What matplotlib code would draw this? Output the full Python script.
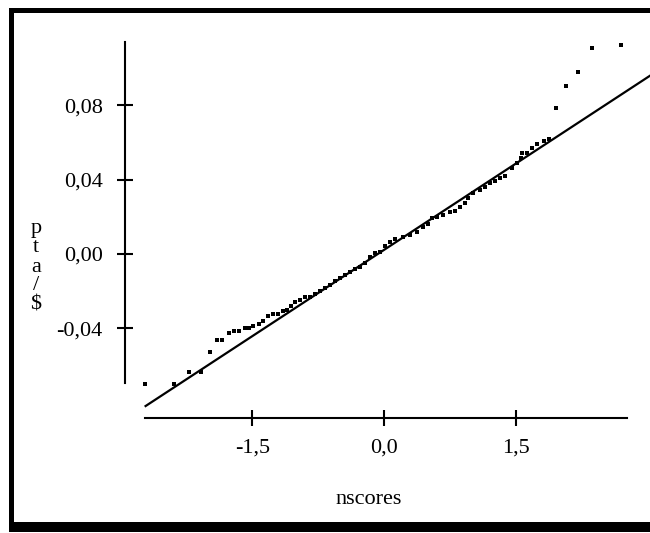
import matplotlib.pyplot as plt
from matplotlib.patches import Rectangle
from matplotlib.ticker import FixedLocator, FixedFormatter
import numpy as np

plt.rcParams['font.family'] = ['Liberation Serif', 'DejaVu Serif']

# normal scores and sorted returns
nscores = [-2.726, -2.395, -2.224, -2.087, -1.985, -1.905, -1.848, -1.768, -1.711, -1.654,
           -1.585, -1.540, -1.494, -1.426, -1.380, -1.323, -1.266, -1.209, -1.152, -1.106,
           -1.061, -1.015, -0.958, -0.901, -0.844, -0.787, -0.730, -0.673, -0.616, -0.559,
           -0.502, -0.445, -0.388, -0.331, -0.274, -0.217, -0.160, -0.103, -0.046, 0.011,
           0.068, 0.125, 0.217, 0.297, 0.376, 0.445, 0.502, 0.548, 0.605, 0.673,
           0.753, 0.810, 0.867, 0.924, 0.958, 1.015, 1.095, 1.152, 1.209, 1.266,
           1.323, 1.380, 1.460, 1.517, 1.563, 1.574, 1.631, 1.688, 1.745, 1.825,
           1.882, 1.962, 2.076, 2.213, 2.373, 2.703]
pta = [-0.0700, -0.0700, -0.0635, -0.0635, -0.0527, -0.0463, -0.0463, -0.0425, -0.0414, -0.0414,
       -0.0398, -0.0398, -0.0388, -0.0377, -0.0361, -0.0334, -0.0323, -0.0323, -0.0307, -0.0301,
       -0.0280, -0.0258, -0.0248, -0.0231, -0.0231, -0.0215, -0.0199, -0.0183, -0.0167, -0.0145,
       -0.0129, -0.0113, -0.0097, -0.0081, -0.0070, -0.0048, -0.0016, 0.0005, 0.0011, 0.0043,
       0.0065, 0.0081, 0.0091, 0.0102, 0.0118, 0.0145, 0.0161, 0.0194, 0.0199, 0.0210,
       0.0226, 0.0231, 0.0253, 0.0274, 0.0301, 0.0328, 0.0344, 0.0361, 0.0382, 0.0393,
       0.0409, 0.0420, 0.0463, 0.0490, 0.0517, 0.0544, 0.0544, 0.0571, 0.0592, 0.0608,
       0.0619, 0.0786, 0.0904, 0.0980, 0.1109, 0.1125]

# fitted line
fit_x = [-2.73, 3.04]
intercept = 0.0022
slope = 0.0309

x_ticks = [-1.5, 0.0, 1.5]
x_labels = ['-1,5', '0,0', '1,5']
y_ticks = [-0.04, 0.00, 0.04, 0.08]
y_labels = ['-0,04', '0,00', '0,04', '0,08']

W, H = 650, 533
fig = plt.figure(figsize=(W / 100, H / 100), dpi=100)
ax = fig.add_axes([0, 0, 1, 1])

# pixel mapping: x=0 at px 384, 87.67 px per unit; y=0 at py 254, 1858 px per unit
ax.set_xlim((0 - 384) / 87.67, (W - 384) / 87.67)
ax.set_ylim((254 - H) / 1858, 254 / 1858)
ax.patch.set_alpha(0)

fx = np.array(fit_x)
ax.plot(fx, intercept + slope * fx, color='black', lw=1.6, solid_capstyle='butt')
ax.plot(nscores, pta, 's', color='black', markersize=2.4, markeredgewidth=0)

for s in ['top', 'right']:
    ax.spines[s].set_visible(False)
ax.spines['left'].set_position(('data', (125 - 384) / 87.67))
ax.spines['left'].set_bounds(-0.0694, 0.114)
ax.spines['bottom'].set_position(('data', (254 - 418) / 1858))
ax.spines['bottom'].set_bounds(-2.726, 2.77)
for s in ['left', 'bottom']:
    ax.spines[s].set_linewidth(1.5)

ax.xaxis.set_major_locator(FixedLocator(x_ticks))
ax.xaxis.set_major_formatter(FixedFormatter(x_labels))
ax.yaxis.set_major_locator(FixedLocator(y_ticks))
ax.yaxis.set_major_formatter(FixedFormatter(y_labels))
ax.tick_params(direction='inout', length=12, width=1.5, labelsize=16, colors='black')
ax.tick_params(axis='y', pad=10)
ax.tick_params(axis='x', pad=9)

fig.text(369 / W, 1 - 500 / H, 'nscores', ha='center', va='center', fontsize=16)
fig.text(36 / W, 1 - 267 / H, '\n'.join('pta/$'), ha='center', va='center',
         fontsize=16, linespacing=1.0)

# frame with heavy shadow at the bottom
fig.add_artist(Rectangle((9 / W, 1 - 13 / H), 1, 5 / H, transform=fig.transFigure,
                         color='black', lw=0))
fig.add_artist(Rectangle((9 / W, 1 - 532 / H), 5 / W, 524 / H, transform=fig.transFigure,
                         color='black', lw=0))
fig.add_artist(Rectangle((13 / W, 1 - 532 / H), 1, 10 / H, transform=fig.transFigure,
                         color='black', lw=0))

fig.savefig('out.png', dpi=100)
